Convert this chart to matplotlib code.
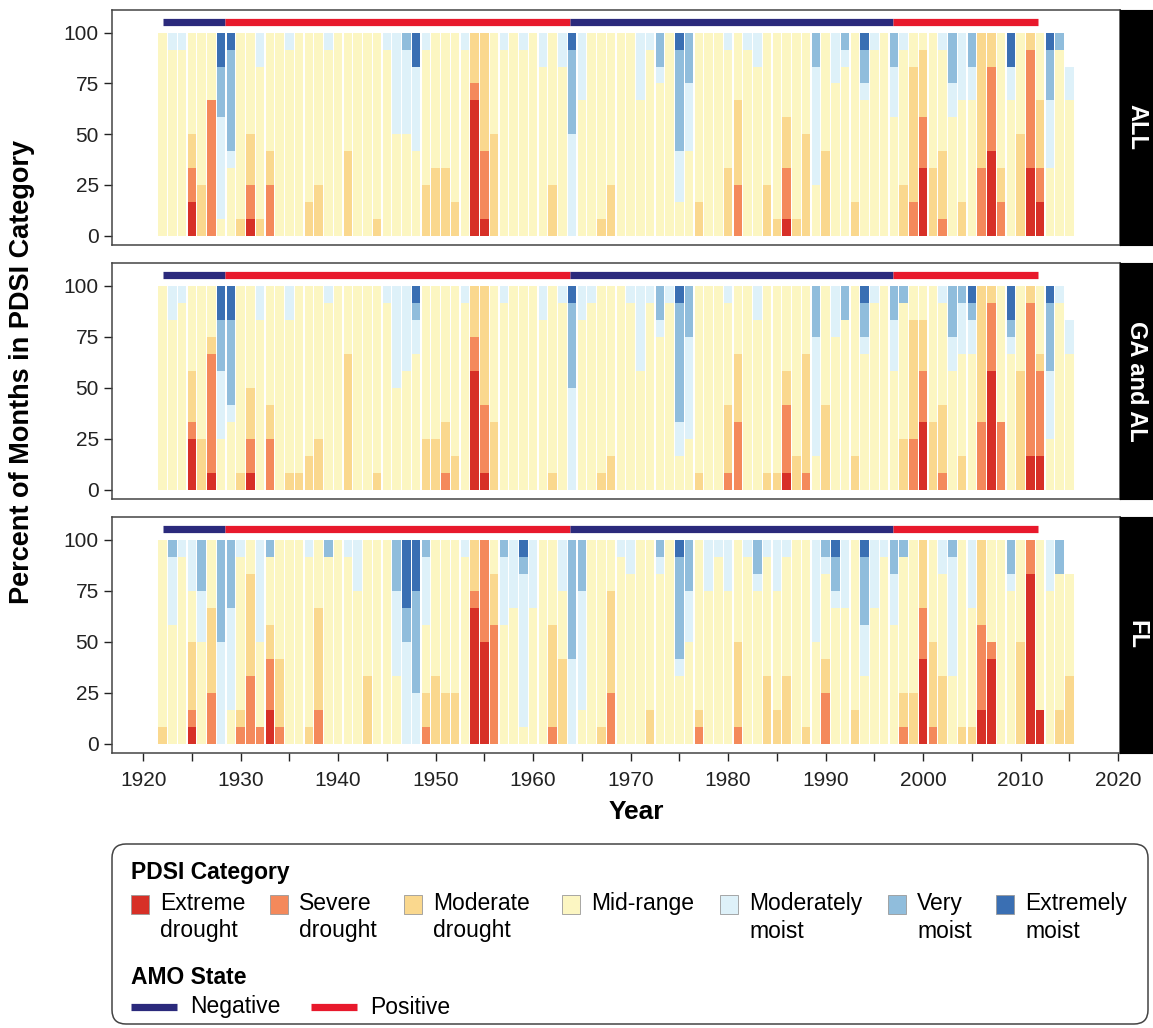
import numpy as np
import matplotlib
matplotlib.use('Agg')
import matplotlib.pyplot as plt
from matplotlib.patches import FancyBboxPatch, Rectangle

plt.rcParams['font.family'] = ['Liberation Sans', 'DejaVu Sans']

# ---- data -------------------------------------------------------------
years = np.arange(1922, 2016)

categories = ['Extreme drought', 'Severe drought', 'Moderate drought', 'Mid-range',
              'Moderately moist', 'Very moist', 'Extremely moist']
legend_labels = ['Extreme\ndrought', 'Severe\ndrought', 'Moderate\ndrought', 'Mid-range',
                 'Moderately\nmoist', 'Very\nmoist', 'Extremely\nmoist']
colors = ['#d73027', '#f4895b', '#fad88e', '#fcf6c2', '#def1f9', '#90bddc', '#3a6fb3']

regions = ['ALL', 'GA and AL', 'FL']

# months per year in each category (bottom -> top of stack)
months_all = [
    [0,0,0,12,0,0,0], [0,0,0,11,1,0,0], [0,0,0,11,1,0,0], [2,2,2,6,0,0,0], [0,0,3,9,0,0,0],
    [0,8,0,4,0,0,0], [0,0,0,1,6,3,2], [0,0,0,4,1,6,1], [0,0,1,11,0,0,0], [1,2,3,6,0,0,0],
    [0,0,1,9,2,0,0], [0,3,2,7,0,0,0], [0,0,0,12,0,0,0], [0,0,0,11,1,0,0], [0,0,0,12,0,0,0],
    [0,0,2,10,0,0,0], [0,0,3,9,0,0,0], [0,0,0,11,1,0,0], [0,0,0,12,0,0,0], [0,0,5,7,0,0,0],
    [0,0,0,12,0,0,0], [0,0,0,12,0,0,0], [0,0,1,11,0,0,0], [0,0,0,11,1,0,0], [0,0,0,6,6,0,0],
    [0,0,0,6,5,1,0], [0,0,0,5,5,0,2], [0,0,3,8,1,0,0], [0,0,4,8,0,0,0], [0,0,4,8,0,0,0],
    [0,0,2,10,0,0,0], [0,0,0,11,1,0,0], [8,1,3,0,0,0,0], [1,4,7,0,0,0,0], [0,0,6,6,0,0,0],
    [0,0,0,11,1,0,0], [0,0,0,12,0,0,0], [0,0,0,11,1,0,0], [0,0,0,12,0,0,0], [0,0,0,10,2,0,0],
    [0,0,3,9,0,0,0], [0,0,0,10,2,0,0], [0,0,0,0,6,5,1], [0,0,0,8,4,0,0], [0,0,0,12,0,0,0],
    [0,0,1,11,0,0,0], [0,0,3,9,0,0,0], [0,0,0,12,0,0,0], [0,0,0,12,0,0,0], [0,0,0,8,4,0,0],
    [0,0,0,11,1,0,0], [0,0,0,9,1,2,0], [0,0,0,12,0,0,0], [0,0,0,2,3,6,1], [0,0,0,5,4,3,0],
    [0,0,2,10,0,0,0], [0,0,0,12,0,0,0], [0,0,0,12,0,0,0], [0,0,4,7,1,0,0], [0,3,5,4,0,0,0],
    [0,0,0,11,1,0,0], [0,0,0,10,2,0,0], [0,0,3,9,0,0,0], [0,0,1,11,0,0,0], [1,3,3,5,0,0,0],
    [0,0,1,11,0,0,0], [0,0,6,6,0,0,0], [0,0,0,3,7,2,0], [0,0,5,7,0,0,0], [0,0,0,9,3,0,0],
    [0,0,0,10,1,1,0], [0,0,2,10,0,0,0], [0,0,0,8,1,2,1], [0,0,0,11,1,0,0], [0,0,0,12,0,0,0],
    [0,0,0,7,3,2,0], [0,0,3,8,1,0,0], [0,2,8,2,0,0,0], [4,3,4,1,0,0,0], [0,0,4,8,0,0,0],
    [0,1,4,6,1,0,0], [0,0,0,7,2,3,0], [0,0,2,6,4,0,0], [0,0,0,8,2,2,0], [0,4,8,0,0,0,0],
    [5,5,2,0,0,0,0], [0,2,2,8,0,0,0], [0,0,0,8,2,0,2], [0,0,6,6,0,0,0], [4,7,1,0,0,0,0],
    [2,2,4,4,0,0,0], [0,0,0,4,4,3,1], [0,0,0,11,0,1,0], [0,0,0,8,2,0,0],
]

months_ga_al = [
    [0,0,0,12,0,0,0], [0,0,0,10,2,0,0], [0,0,0,11,1,0,0], [3,1,3,5,0,0,0], [0,0,3,9,0,0,0],
    [1,7,1,3,0,0,0], [0,0,0,3,4,3,2], [0,0,0,4,1,5,2], [0,0,1,11,0,0,0], [1,2,3,6,0,0,0],
    [0,0,0,10,2,0,0], [0,3,2,7,0,0,0], [0,0,0,12,0,0,0], [0,0,1,9,2,0,0], [0,0,1,11,0,0,0],
    [0,0,2,10,0,0,0], [0,0,3,9,0,0,0], [0,0,0,11,1,0,0], [0,0,0,12,0,0,0], [0,0,8,4,0,0,0],
    [0,0,0,12,0,0,0], [0,0,0,12,0,0,0], [0,0,1,11,0,0,0], [0,0,0,11,1,0,0], [0,0,0,6,6,0,0],
    [0,0,0,7,5,0,0], [0,0,0,8,2,1,1], [0,0,3,9,0,0,0], [0,0,3,9,0,0,0], [0,1,3,8,0,0,0],
    [0,0,2,10,0,0,0], [0,0,0,11,1,0,0], [7,2,3,0,0,0,0], [1,4,7,0,0,0,0], [0,0,4,8,0,0,0],
    [0,0,0,11,1,0,0], [0,0,0,12,0,0,0], [0,0,0,12,0,0,0], [0,0,0,12,0,0,0], [0,0,0,10,2,0,0],
    [0,0,1,11,0,0,0], [0,0,0,11,1,0,0], [0,0,0,0,6,5,1], [0,0,0,10,2,0,0], [0,0,0,11,1,0,0],
    [0,0,1,11,0,0,0], [0,0,2,10,0,0,0], [0,0,0,12,0,0,0], [0,0,0,11,1,0,0], [0,0,0,7,5,0,0],
    [0,0,0,11,1,0,0], [0,0,0,9,1,2,0], [0,0,0,11,1,0,0], [0,0,0,2,2,7,1], [0,0,0,3,6,3,0],
    [0,0,1,11,0,0,0], [0,0,0,12,0,0,0], [0,0,0,12,0,0,0], [0,1,4,6,1,0,0], [0,4,4,4,0,0,0],
    [0,0,0,12,0,0,0], [0,0,0,10,2,0,0], [0,0,1,11,0,0,0], [0,0,1,11,0,0,0], [1,4,2,5,0,0,0],
    [0,0,2,10,0,0,0], [0,1,7,4,0,0,0], [0,0,0,2,7,3,0], [0,0,5,7,0,0,0], [0,0,0,9,3,0,0],
    [0,0,0,10,0,2,0], [0,0,2,10,0,0,0], [0,0,0,8,1,2,1], [0,0,0,11,1,0,0], [0,0,0,12,0,0,0],
    [0,0,0,7,3,2,0], [0,0,3,8,0,1,0], [0,3,7,2,0,0,0], [4,3,3,2,0,0,0], [0,0,4,8,0,0,0],
    [0,1,4,6,1,0,0], [0,0,0,7,2,3,0], [0,0,2,6,3,1,0], [0,0,0,8,2,1,1], [0,4,8,0,0,0,0],
    [7,4,1,0,0,0,0], [0,4,0,8,0,0,0], [0,0,0,8,1,1,2], [0,0,7,5,0,0,0], [2,9,1,0,0,0,0],
    [2,5,1,4,0,0,0], [0,0,0,3,4,4,1], [0,0,0,11,1,0,0], [0,0,0,8,2,0,0],
]

months_fl = [
    [0,0,1,11,0,0,0], [0,0,0,7,4,1,0], [0,0,0,11,1,0,0], [1,1,4,3,3,0,0], [0,0,0,6,3,3,0],
    [0,3,5,4,0,0,0], [0,0,0,0,6,6,0], [0,0,0,2,6,4,0], [0,1,1,9,1,0,0], [0,4,6,2,0,0,0],
    [0,1,0,5,6,0,0], [2,3,2,4,0,1,0], [0,1,4,7,0,0,0], [0,0,0,12,0,0,0], [0,0,0,12,0,0,0],
    [0,0,1,10,1,0,0], [0,2,6,4,0,0,0], [0,0,0,11,0,1,0], [0,0,0,12,0,0,0], [0,0,0,11,1,0,0],
    [0,0,0,9,3,0,0], [0,0,4,8,0,0,0], [0,0,0,12,0,0,0], [0,0,0,12,0,0,0], [0,0,0,4,5,3,0],
    [0,0,0,0,6,2,4], [0,0,0,0,3,6,3], [0,1,2,4,4,1,0], [0,0,4,8,0,0,0], [0,0,3,9,0,0,0],
    [0,0,3,9,0,0,0], [0,0,0,11,1,0,0], [8,1,3,0,0,0,0], [6,6,0,0,0,0,0], [0,7,3,2,0,0,0],
    [0,0,0,7,4,1,0], [0,0,0,8,4,0,0], [0,0,0,1,9,1,1], [0,0,0,8,4,0,0], [0,0,0,12,0,0,0],
    [0,1,6,5,0,0,0], [0,0,5,4,3,0,0], [0,0,0,0,5,7,0], [0,0,0,2,7,3,0], [0,0,0,12,0,0,0],
    [0,0,1,11,0,0,0], [0,3,6,3,0,0,0], [0,0,0,11,1,0,0], [0,0,0,10,2,0,0], [0,0,0,12,0,0,0],
    [0,0,2,10,0,0,0], [0,0,0,10,1,1,0], [0,0,0,12,0,0,0], [0,0,0,4,1,6,1], [0,0,0,6,3,3,0],
    [0,1,1,10,0,0,0], [0,0,0,9,3,0,0], [0,0,0,11,1,0,0], [0,0,0,9,3,0,0], [0,1,5,6,0,0,0],
    [0,0,0,11,1,0,0], [0,0,0,9,1,2,0], [0,0,4,7,1,0,0], [0,0,2,7,3,0,0], [0,0,4,7,1,0,0],
    [0,0,0,12,0,0,0], [0,0,1,11,0,0,0], [0,0,0,6,6,0,0], [0,3,2,5,1,1,0], [0,0,0,8,1,2,1],
    [0,0,0,8,4,0,0], [0,0,2,10,0,0,0], [0,0,0,4,3,4,1], [0,0,0,8,4,0,0], [0,0,0,11,1,0,0],
    [0,0,0,7,3,2,0], [0,1,2,8,0,1,0], [0,0,3,9,0,0,0], [5,3,4,0,0,0,0], [0,1,5,6,0,0,0],
    [0,0,4,6,2,0,0], [0,0,0,4,7,1,0], [0,0,1,11,0,0,0], [0,0,1,7,4,0,0], [2,5,5,0,0,0,0],
    [5,1,0,6,0,0,0], [0,0,0,12,0,0,0], [0,0,0,9,1,2,0], [0,0,6,6,0,0,0], [10,2,0,0,0,0,0],
    [2,0,0,10,0,0,0], [0,0,0,9,3,0,0], [0,0,2,8,0,2,0], [0,0,4,6,0,0,0],
]

# AMO phases
amo_start = [1922.0, 1928.4, 1963.8, 1996.9]
amo_end = [1928.4, 1963.8, 1996.9, 2011.8]
amo_state = ['Negative', 'Positive', 'Negative', 'Positive']
amo_colors = {'Negative': '#2b2a7c', 'Positive': '#e8192c'}

# ---- figure -----------------------------------------------------------
W, H = 1153, 1028
fig = plt.figure(figsize=(W / 100, H / 100), dpi=100)


def px_axes(x0, y0, x1, y1):
    # axes from pixel box (top-left origin)
    return fig.add_axes([x0 / W, 1 - y1 / H, (x1 - x0) / W, (y1 - y0) / H])


panel_px = [(10, 245), (263, 499), (517, 753)]
all_months = [months_all, months_ga_al, months_fl]

for i, (region, months, (top, bot)) in enumerate(zip(regions, all_months, panel_px)):
    ax = px_axes(112, top, 1120, bot)
    pct = np.array(months) / 12 * 100
    bottom = np.zeros(len(years))
    for k in range(len(categories)):
        ax.bar(years, pct[:, k], bottom=bottom, width=0.88, color=colors[k],
               linewidth=0, label=categories[k])
        bottom += pct[:, k]

    for s, e, st in zip(amo_start, amo_end, amo_state):
        ax.hlines(105.4, s, e, color=amo_colors[st], linewidth=5.2)

    ax.set_xlim(1916.8, 2020.2)
    ax.set_ylim(-4.6, 111.2)
    ax.set_yticks([0, 25, 50, 75, 100])
    ax.tick_params(axis='y', length=6, width=1, pad=3.5, labelsize=15, colors='#222222')
    for sp in ax.spines.values():
        sp.set_color('#444444')
        sp.set_linewidth(1.1)

    if i < 2:
        ax.set_xticks([])
    else:
        ticks = list(range(1920, 2021, 5))
        ax.set_xticks(ticks)
        ax.set_xticklabels([str(t) if t % 10 == 0 else '' for t in ticks])
        ax.tick_params(axis='x', length=6, width=1, pad=7, labelsize=15, colors='#222222')

    # facet strip
    sax = px_axes(1120, top, 1153, bot)
    sax.set_facecolor('black')
    sax.set_xticks([])
    sax.set_yticks([])
    sax.text(0.5, 0.5, region, rotation=270, color='white', fontweight='bold',
             fontsize=17, ha='center', va='center', transform=sax.transAxes)

fig.text(22 / W, 1 - 372 / H, 'Percent of Months in PDSI Category', rotation=90,
         fontsize=19.5, fontweight='bold', ha='center', va='center')
fig.text(636 / W, 1 - 812 / H, 'Year', fontsize=19, fontweight='bold',
         ha='center', va='center')

# ---- legend (drawn in pixel space) -----------------------------------
lax = fig.add_axes([0, 0, 1, 1])
lax.set_xlim(0, W)
lax.set_ylim(H, 0)
lax.axis('off')
lax.patch.set_alpha(0)

lax.add_patch(FancyBboxPatch((112, 844), 1036, 180, boxstyle='round,pad=0,rounding_size=14',
                             facecolor='white', edgecolor='#444444', linewidth=1.1))
lax.text(131, 873, 'PDSI Category', fontsize=16.5, fontweight='bold', va='center')

swatch_x = [131, 270, 404, 562, 720, 888, 996]
for k, lab in enumerate(legend_labels):
    lax.add_patch(Rectangle((swatch_x[k], 895), 18, 19, facecolor=colors[k],
                            edgecolor='#999999', linewidth=0.6))
    lax.text(swatch_x[k] + 29, 892, lab, fontsize=16.5, va='top', linespacing=1.25)

lax.text(131, 977, 'AMO State', fontsize=16.5, fontweight='bold', va='center')
amo_leg_x = [131, 311]
for x0, st in zip(amo_leg_x, ['Negative', 'Positive']):
    lax.plot([x0, x0 + 46], [1007, 1007], color=amo_colors[st], linewidth=5.2,
             solid_capstyle='butt')
    lax.text(x0 + 59, 1007, st, fontsize=16.5, va='center')

fig.savefig('out.png', dpi=100)
